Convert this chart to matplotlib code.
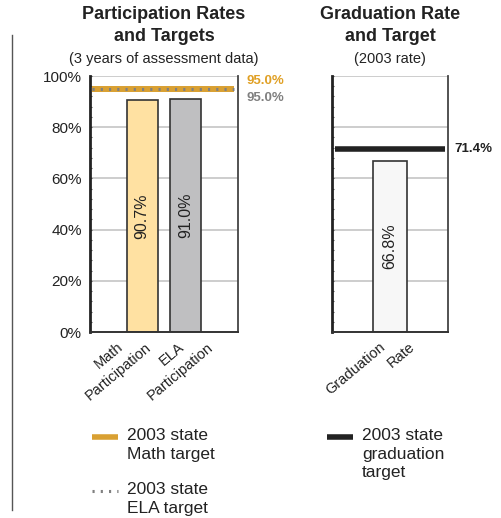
import matplotlib.pyplot as plt
from matplotlib.lines import Line2D
from matplotlib.ticker import MultipleLocator, FuncFormatter
from matplotlib.transforms import offset_copy

plt.rcParams['font.family'] = ['Liberation Sans', 'DejaVu Sans']

# participation panel
part_labels = ["Math\nParticipation", "ELA\nParticipation"]
part_values = [90.7, 91.0]
part_colors = ["#FFE1A2", "#BFBFC1"]
math_target = 95.0
ela_target = 95.0

# graduation panel
grad_labels = ["Graduation\nRate"]
grad_values = [66.8]
grad_colors = ["#F7F7F7"]
grad_target = 71.4

y_ticks = [0, 20, 40, 60, 80, 100]

ORANGE = "#D9A032"
GRAY = "#808080"
DARK = "#222222"

W, H = 502, 518
fig = plt.figure(figsize=(W / 100, H / 100), dpi=100)


def px_axes(x0, x1, y0, y1):
    # pixel box (from the top left) to figure fraction
    return fig.add_axes([x0 / W, 1 - y1 / H, (x1 - x0) / W, (y1 - y0) / H])


def style_axes(ax, show_labels):
    ax.set_ylim(0, 100)
    ax.set_yticks(y_ticks)
    ax.yaxis.set_minor_locator(MultipleLocator(4))
    ax.yaxis.set_major_formatter(FuncFormatter(lambda v, p: f"{v:.0f}%"))
    ax.grid(axis='y', color="#C9C9C9", linewidth=1.3, zorder=0)
    ax.set_axisbelow(True)
    ax.spines['top'].set_visible(False)
    ax.spines['left'].set_linewidth(2.0)
    ax.spines['left'].set_color(DARK)
    ax.spines['bottom'].set_linewidth(1.4)
    ax.spines['bottom'].set_color("#333333")
    ax.spines['right'].set_linewidth(1.3)
    ax.spines['right'].set_color("#444444")
    ax.tick_params(axis='y', which='both', direction='in', length=1.5, width=0.8,
                   color="#555555", labelsize=11, pad=6, labelcolor="#222222",
                   labelleft=show_labels)
    ax.tick_params(axis='x', length=0, labelbottom=False)


def category_labels(ax, positions, labels, nudges):
    # rotated two-line labels, each line ending on the same height
    trans = ax.get_xaxis_transform()
    for pos, lab, dx in zip(positions, labels, nudges):
        for i, line in enumerate(lab.split("\n")):
            t = offset_copy(trans, fig=fig, x=dx + 29 * i, y=-8, units='dots')
            ax.text(pos, 0, line, transform=t, ha='right', va='top',
                    rotation=40, rotation_mode='anchor', fontsize=10.5,
                    color="#222222")


def bar_values(ax, bars, values):
    for b, v in zip(bars, values):
        ax.text(b.get_x() + b.get_width() / 2, v / 2, f"{v:.1f}%",
                rotation=90, ha='center', va='center', fontsize=11.5,
                color="#222222", zorder=4)


# left panel
ax1 = px_axes(90, 238, 76, 332)
style_axes(ax1, True)
x1 = list(range(len(part_values)))
bars1 = ax1.bar(x1, part_values, width=0.72, color=part_colors,
                edgecolor="#333333", linewidth=1.2, zorder=2)
ax1.set_xlim(-1.2, 2.2)
ax1.axhline(math_target, xmin=0.015, xmax=0.975, color=ORANGE, linewidth=4.3,
            solid_capstyle='butt', zorder=3)
ax1.axhline(ela_target, xmin=0.015, xmax=0.975, color=GRAY, linewidth=2.2,
            dashes=(0.7, 2.0), zorder=3.5)
bar_values(ax1, bars1, part_values)
category_labels(ax1, x1, part_labels, [-26, -8])
ax1.text(1, math_target, f"{math_target:.1f}%", color="#E0A025", fontsize=9.5,
         fontweight='bold', ha='left', va='center',
         transform=offset_copy(ax1.get_yaxis_transform(), fig=fig, x=9, y=8, units='dots'))
ax1.text(1, ela_target, f"{ela_target:.1f}%", color=GRAY, fontsize=9.5,
         fontweight='bold', ha='left', va='center',
         transform=offset_copy(ax1.get_yaxis_transform(), fig=fig, x=9, y=-9, units='dots'))

# right panel
ax2 = px_axes(332, 448, 76, 332)
style_axes(ax2, False)
x2 = list(range(len(grad_values)))
bars2 = ax2.bar(x2, grad_values, width=0.3, color=grad_colors,
                edgecolor="#333333", linewidth=1.2, zorder=2)
ax2.set_xlim(-0.5, 0.5)
ax2.axhline(grad_target, xmin=0.025, xmax=0.975, color=DARK, linewidth=4.0,
            solid_capstyle='butt', zorder=3)
bar_values(ax2, bars2, grad_values)
category_labels(ax2, x2, grad_labels, [-11])
ax2.text(1, grad_target, f"{grad_target:.1f}%", color=DARK, fontsize=9.5,
         fontweight='bold', ha='left', va='center',
         transform=offset_copy(ax2.get_yaxis_transform(), fig=fig, x=6, y=0, units='dots'))

# titles
for ax, title, sub in [(ax1, "Participation Rates\nand Targets", "(3 years of assessment data)"),
                       (ax2, "Graduation Rate\nand Target", "(2003 rate)")]:
    box = ax.get_position()
    cx = box.x0 + box.width / 2
    fig.text(cx, 1 - 6 / H, title, ha='center', va='top', fontsize=13,
             fontweight='bold', color="#222222", linespacing=1.35)
    fig.text(cx, 1 - 63 / H, sub, ha='center', va='baseline', fontsize=10.5,
             color="#222222")

# divider on the left
fig.add_artist(Line2D([12 / W, 12 / W], [1 - 35 / H, 1 - 510 / H],
                      color="#555555", linewidth=1.0))

# legend
legend_items = [
    (92, 437, dict(color=ORANGE, linewidth=4.0, solid_capstyle='butt'), "2003 state\nMath target"),
    (92, 491, dict(color=GRAY, linewidth=2.2, dashes=(0.7, 2.0)), "2003 state\nELA target"),
    (327, 437, dict(color=DARK, linewidth=4.0, solid_capstyle='butt'), "2003 state\ngraduation\ntarget"),
]
for lx, ly, kw, text in legend_items:
    fig.add_artist(Line2D([lx / W, (lx + 26) / W], [1 - ly / H, 1 - ly / H], **kw))
    fig.text((lx + 35) / W, 1 - (ly - 9) / H, text, ha='left', va='top',
             fontsize=12.5, color="#222222", linespacing=1.3)

fig.savefig("out.png", dpi=100)
plt.close()
